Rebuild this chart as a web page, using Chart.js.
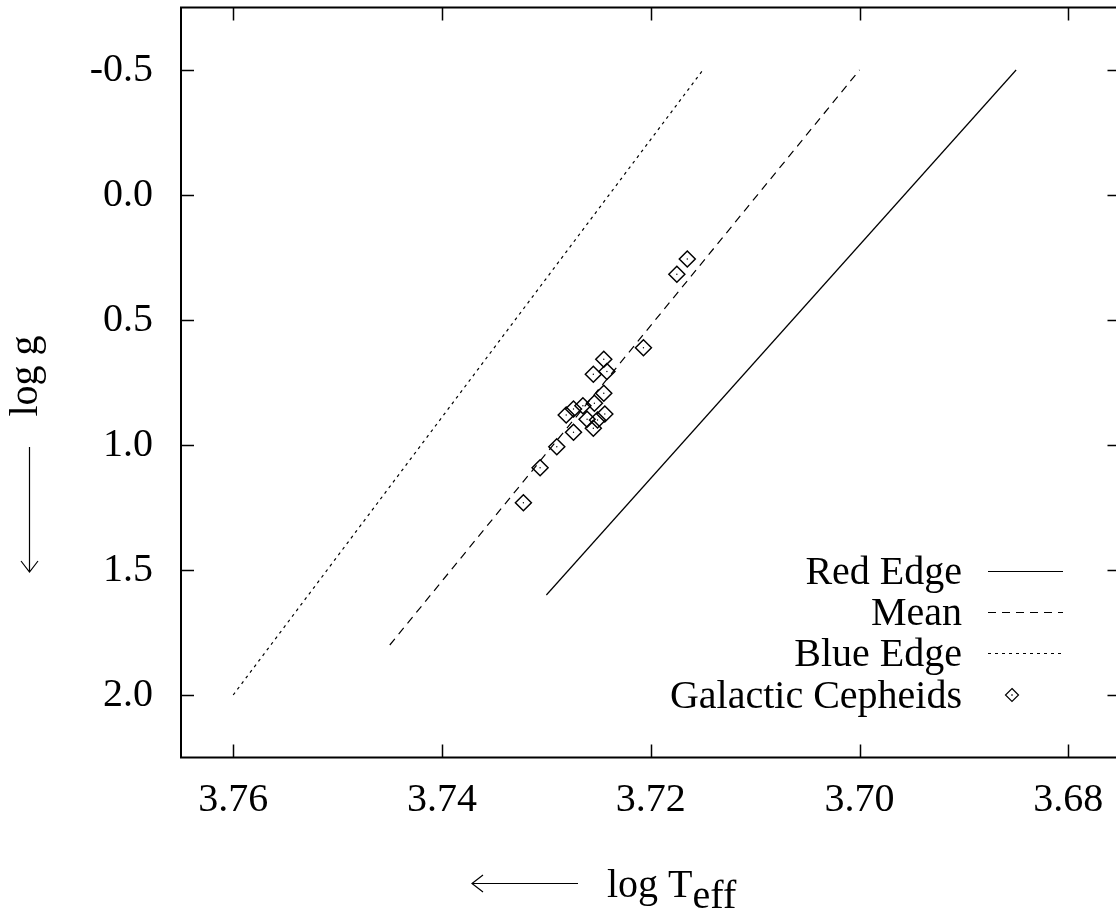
<!DOCTYPE html>
<html><head><meta charset="utf-8">
<script src="https://cdn.jsdelivr.net/npm/chart.js@4.4.1/dist/chart.umd.min.js"></script>
<style>html,body{margin:0;padding:0;overflow:hidden;background:#fff;width:1116px;height:909px}
canvas{display:block}</style></head>
<body><canvas id="c" width="1121" height="909"></canvas>
<script>
const xTicks = [3.76, 3.74, 3.72, 3.70, 3.68];
const yTicks = [-0.5, 0.0, 0.5, 1.0, 1.5, 2.0];
const redEdgeT = [3.730, 3.685];
const redEdgeG = [1.6, -0.5];
const meanT = [3.745, 3.700];
const meanG = [1.8, -0.5];
const blueEdgeT = [3.760, 3.715];
const blueEdgeG = [2.0, -0.5];
const cepheidT = [3.7165, 3.7175, 3.7207, 3.7245, 3.7242, 3.7255, 3.7245, 3.7254, 3.7265, 3.7274,
                  3.7281, 3.7244, 3.7261, 3.7251, 3.7255, 3.7274, 3.7290, 3.7306, 3.7322];
const cepheidG = [0.256, 0.317, 0.611, 0.657, 0.706, 0.717, 0.793, 0.833, 0.843, 0.856,
                  0.880, 0.876, 0.897, 0.900, 0.933, 0.949, 1.007, 1.091, 1.231];
const seriesLabels = ['Red Edge', 'Mean', 'Blue Edge', 'Galactic Cepheids'];
const xTitle = 'log T';
const xTitleSub = 'eff';
const yTitle = 'log g';

const FONT = "'Liberation Serif', 'Times New Roman', serif";
const pts = (xs, ys) => xs.map((x, i) => ({x: x, y: ys[i]}));
const zeroPad = s => { s.paddingTop = 0; s.paddingBottom = 0; s.paddingLeft = 0; s.paddingRight = 0; };

const framePlugin = {
  id: 'frame',
  afterDraw(chart) {
    const ctx = chart.ctx, a = chart.chartArea;
    const sx = chart.scales.x, sy = chart.scales.y;
    ctx.save();
    ctx.strokeStyle = '#000';
    ctx.lineWidth = 2;
    ctx.strokeRect(a.left, a.top, a.right - a.left, a.bottom - a.top);
    ctx.lineWidth = 1.5;
    ctx.beginPath();
    const tl = 13;
    xTicks.forEach(v => {
      const p = Math.round(sx.getPixelForValue(v)) + 0.5;
      ctx.moveTo(p, a.bottom); ctx.lineTo(p, a.bottom - tl);
      ctx.moveTo(p, a.top); ctx.lineTo(p, a.top + tl);
    });
    yTicks.forEach(v => {
      const p = Math.round(sy.getPixelForValue(v)) + 0.5;
      ctx.moveTo(a.left, p); ctx.lineTo(a.left + tl, p);
      ctx.moveTo(a.right, p); ctx.lineTo(a.right - tl, p);
    });
    ctx.stroke();

    // legend
    ctx.fillStyle = '#000';
    ctx.font = '40px ' + FONT;
    ctx.textAlign = 'right';
    ctx.textBaseline = 'alphabetic';
    const rows = [571, 612, 653, 695];
    const ds = chart.data.datasets;
    for (let i = 0; i < 4; i++) {
      const y = rows[i];
      ctx.fillText(ds[i].label, 962, y + 13);
      ctx.lineWidth = 1.2;
      if (i < 3) {
        ctx.setLineDash(ds[i].borderDash || []);
        ctx.beginPath();
        ctx.moveTo(988, y + 0.5); ctx.lineTo(1063, y + 0.5);
        ctx.stroke();
        ctx.setLineDash([]);
      } else {
        const r = 6.5, cx = 1012;
        ctx.beginPath();
        ctx.moveTo(cx, y - r); ctx.lineTo(cx + r, y); ctx.lineTo(cx, y + r); ctx.lineTo(cx - r, y); ctx.closePath();
        ctx.stroke();
        ctx.fillRect(cx - 0.7, y - 0.7, 1.4, 1.4);
      }
    }

    // x title
    ctx.textAlign = 'left';
    ctx.font = '40px ' + FONT;
    ctx.fillText(xTitle, 607, 897);
    const w = ctx.measureText(xTitle).width;
    ctx.fillText(xTitleSub, 607 + w, 908);
    ctx.lineWidth = 1.2;
    ctx.beginPath();
    ctx.moveTo(472, 883.5); ctx.lineTo(578, 883.5);
    ctx.moveTo(483, 875); ctx.lineTo(472, 883.5); ctx.lineTo(483, 892);
    ctx.stroke();

    // y title
    ctx.save();
    ctx.translate(37, 376);
    ctx.rotate(-Math.PI / 2);
    ctx.textAlign = 'center';
    ctx.fillText(yTitle, 0, 0);
    ctx.restore();
    ctx.beginPath();
    ctx.moveTo(29.5, 447); ctx.lineTo(29.5, 572);
    ctx.moveTo(21, 561); ctx.lineTo(29.5, 572); ctx.lineTo(38, 561);
    ctx.stroke();
    ctx.restore();
  }
};

new Chart(document.getElementById('c'), {
  type: 'scatter',
  data: {
    datasets: [
      {label: seriesLabels[0], data: pts(redEdgeT, redEdgeG), showLine: true, borderColor: '#000', borderWidth: 1.2, pointRadius: 0, fill: false},
      {label: seriesLabels[1], data: pts(meanT, meanG), showLine: true, borderColor: '#000', borderWidth: 1.2, borderDash: [8, 6], pointRadius: 0, fill: false},
      {label: seriesLabels[2], data: pts(blueEdgeT, blueEdgeG), showLine: true, borderColor: '#000', borderWidth: 1.2, borderDash: [3, 4], pointRadius: 0, fill: false},
      {label: seriesLabels[3], data: pts(cepheidT, cepheidG), showLine: false, pointStyle: 'rectRot', pointRadius: 8, borderColor: '#000', backgroundColor: 'rgba(0,0,0,0)', pointBorderWidth: 1.5},
      {label: '', data: pts(cepheidT, cepheidG), showLine: false, pointStyle: 'circle', pointRadius: 0.7, borderWidth: 0, backgroundColor: '#000', borderColor: '#000'}
    ]
  },
  options: {
    responsive: false,
    animation: false,
    devicePixelRatio: 1,
    layout: {autoPadding: false, padding: {top: 7.5, right: 0.5, left: 0, bottom: 0}},
    plugins: {legend: {display: false}, tooltip: {enabled: false}},
    scales: {
      x: {
        type: 'linear', position: 'bottom', reverse: true, min: 3.675, max: 3.765,
        grid: {display: false, drawTicks: false}, border: {display: false},
        ticks: {font: {family: FONT, size: 40}, color: '#000', padding: 19, maxRotation: 0, autoSkip: false,
                callback: v => Number(v).toFixed(2)},
        afterBuildTicks: s => { s.ticks = xTicks.map(v => ({value: v})); },
        afterFit: s => { s.height = 151.5; zeroPad(s); }
      },
      y: {
        type: 'linear', position: 'left', reverse: true, min: -0.75, max: 2.25,
        grid: {display: false, drawTicks: false}, border: {display: false},
        ticks: {font: {family: FONT, size: 40}, color: '#000', padding: 28, autoSkip: false,
                callback: v => Number(v).toFixed(1)},
        afterBuildTicks: s => { s.ticks = yTicks.map(v => ({value: v})); },
        afterFit: s => { s.width = 181; zeroPad(s); }
      }
    }
  },
  plugins: [framePlugin]
});
</script>
</body></html>
